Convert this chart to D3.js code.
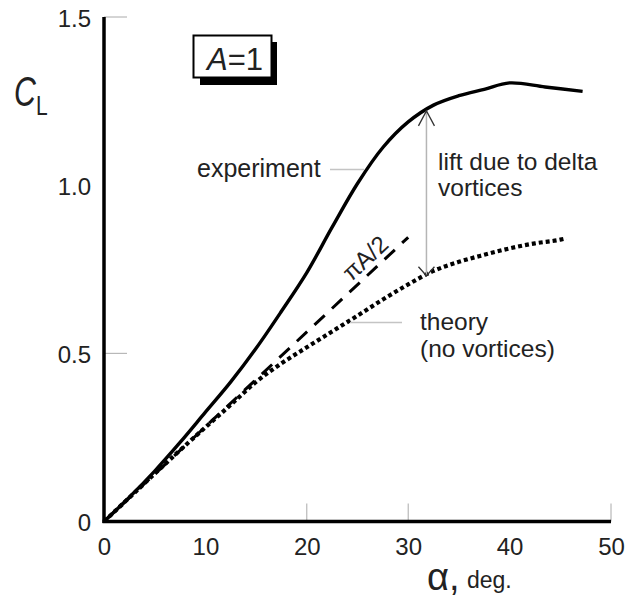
<!DOCTYPE html>
<html>
<head>
<meta charset="utf-8">
<script src="https://cdn.jsdelivr.net/npm/d3@7/dist/d3.min.js"></script>
<style>
  html, body { margin: 0; padding: 0; background: #fff; }
  svg { display: block; }
  text { font-family: "Liberation Sans", Arial, Helvetica, sans-serif; fill: #222; }
</style>
</head>
<body>
<script>
// Lift coefficient of a delta wing of aspect ratio 1 versus angle of attack.
// Angle of attack, degrees, and CL for the measured curve
const expAlpha = [0, 2.5, 5, 7.5, 10, 12.5, 15, 17.5, 20, 22.5, 25, 27.5, 30, 32.5, 35, 37.5, 40, 43.5, 47.2];
const expCL    = [0, 0.072, 0.15, 0.235, 0.325, 0.415, 0.515, 0.625, 0.74, 0.875, 1.005, 1.112, 1.188, 1.238, 1.266, 1.285, 1.304, 1.292, 1.279];

// Attached-flow theory (no vortex lift)
const theoryAlpha = [0, 2.5, 5, 7.5, 10, 12.5, 15, 17.5, 20, 22.5, 25, 27.5, 30, 32.5, 35, 37.5, 40, 42.5, 45, 45.6];
const theoryCL    = [0, 0.071, 0.142, 0.212, 0.28, 0.347, 0.415, 0.47, 0.518, 0.565, 0.612, 0.66, 0.705, 0.745, 0.772, 0.793, 0.812, 0.827, 0.838, 0.842];

// Slender-wing slope, CL = (pi A / 2) alpha
const slenderAlpha = [0, 30];
const slenderCL    = [0, 0.845];

// Axis ticks
const xTickLabels = [0, 10, 20, 30, 40, 50];
const yTickLabels = [0, 0.5, 1.0, 1.5];
const xTickMarks  = [20, 30, 50];
const yTickMarks  = [0.5, 1.5];

// Angle at which the vortex-lift increment is marked
const vortexArrowAlpha = 31.8;

const W = 635, H = 597;
const svg = d3.select("body").append("svg").attr("width", W).attr("height", H);
svg.append("rect").attr("width", W).attr("height", H).attr("fill", "#fff");

const x = d3.scaleLinear().domain([0, 50]).range([104, 611]);
const y = d3.scaleLinear().domain([0, 1.5]).range([521.5, 17]);

const zip = (a, b) => a.map((v, i) => [v, b[i]]);
const line = d3.line().x(d => x(d[0])).y(d => y(d[1]));
const smooth = d3.line().x(d => x(d[0])).y(d => y(d[1])).curve(d3.curveMonotoneX);

// tick marks: thin grey, pointing into the plot
svg.append("g").selectAll("line").data(xTickMarks).join("line")
  .attr("x1", d => x(d)).attr("x2", d => x(d))
  .attr("y1", y(0)).attr("y2", y(0) - 18)
  .attr("stroke", "#aaa").attr("stroke-width", 1);
svg.append("g").selectAll("line").data(yTickMarks).join("line")
  .attr("x1", x(0)).attr("x2", x(0) + 23)
  .attr("y1", d => y(d)).attr("y2", d => y(d))
  .attr("stroke", "#aaa").attr("stroke-width", 1);

// tick labels
const xAxis = svg.append("g").attr("transform", `translate(0,${y(0)})`)
  .call(d3.axisBottom(x).tickValues(xTickLabels).tickSize(0).tickPadding(16.5).tickFormat(d3.format("d")));
const yAxis = svg.append("g").attr("transform", `translate(${x(0)},0)`)
  .call(d3.axisLeft(y).tickValues(yTickLabels).tickSize(0).tickPadding(13)
        .tickFormat(d => d === 0 ? "0" : d3.format(".1f")(d)));
[xAxis, yAxis].forEach(g => {
  g.select(".domain").remove();
  g.selectAll("text").attr("font-size", 24).attr("fill", "#222")
    .style("font-family", '"Liberation Sans", Arial, sans-serif');
});
yAxis.selectAll("text").attr("dy", "0.38em");

// heavy axis lines
svg.append("line").attr("x1", x(0)).attr("x2", x(0)).attr("y1", y(1.5)).attr("y2", y(0) + 1.5)
  .attr("stroke", "#000").attr("stroke-width", 3.5);
svg.append("line").attr("x1", x(0) - 1.5).attr("x2", x(50)).attr("y1", y(0)).attr("y2", y(0))
  .attr("stroke", "#000").attr("stroke-width", 3.5);

// curves
svg.append("path").datum(zip(slenderAlpha, slenderCL)).attr("d", line)
  .attr("fill", "none").attr("stroke", "#000").attr("stroke-width", 3)
  .attr("stroke-dasharray", "14,10");
svg.append("path").datum(zip(theoryAlpha, theoryCL)).attr("d", smooth)
  .attr("fill", "none").attr("stroke", "#000").attr("stroke-width", 4.2)
  .attr("stroke-dasharray", "4,3");
svg.append("path").datum(zip(expAlpha, expCL)).attr("d", d3.line().x(d => x(d[0])).y(d => y(d[1])).curve(d3.curveCatmullRom.alpha(0.5)))
  .attr("fill", "none").attr("stroke", "#000").attr("stroke-width", 3.4)
  .attr("stroke-linejoin", "round");

// vortex-lift increment arrow, spanning theory to experiment
const interp = (xs, ys, a) => {
  const i = d3.bisectLeft(xs, a);
  const t = (a - xs[i - 1]) / (xs[i] - xs[i - 1]);
  return ys[i - 1] + t * (ys[i] - ys[i - 1]);
};
const ax = x(vortexArrowAlpha);
const aTop = y(interp(expAlpha, expCL, vortexArrowAlpha)) + 1;
const aBot = y(interp(theoryAlpha, theoryCL, vortexArrowAlpha)) + 1;
svg.append("line").attr("x1", ax).attr("x2", ax).attr("y1", aTop).attr("y2", aBot)
  .attr("stroke", "#b5b5b5").attr("stroke-width", 1.5);
svg.append("path").attr("d", `M${ax - 8},${aTop + 15}L${ax},${aTop}L${ax + 8},${aTop + 15}`)
  .attr("fill", "none").attr("stroke", "#333").attr("stroke-width", 1.3);
svg.append("path").attr("d", `M${ax - 8},${aBot - 9}L${ax},${aBot}L${ax + 8},${aBot - 9}`)
  .attr("fill", "none").attr("stroke", "#333").attr("stroke-width", 1.3);

// leader lines
svg.append("line").attr("x1", 330).attr("x2", 364).attr("y1", 169.5).attr("y2", 169.5)
  .attr("stroke", "#c4c4c4").attr("stroke-width", 1.5);
svg.append("line").attr("x1", 350).attr("x2", 402).attr("y1", 322.5).attr("y2", 322.5)
  .attr("stroke", "#c4c4c4").attr("stroke-width", 1.5);

// annotations
const label = (tx, ty, s, size) => svg.append("text").attr("x", tx).attr("y", ty)
  .attr("font-size", size).text(s);
label(197, 177, "experiment", 25);
label(438, 169.5, "lift due to delta", 24.5);
label(438, 196, "vortices", 24.5);
label(420, 330, "theory", 24.5);
label(420, 356.5, "(no vortices)", 24.5);

// pi A / 2 label along the slender-wing line
const slopeAngle = Math.atan2(y(slenderCL[1]) - y(0), x(slenderAlpha[1]) - x(0)) * 180 / Math.PI;
svg.append("text").attr("transform", `translate(365,258) rotate(${slopeAngle})`)
  .attr("text-anchor", "middle").attr("dy", "0.35em").attr("font-size", 24)
  .text("πA/2");

// aspect-ratio box with drop shadow
svg.append("rect").attr("x", 200).attr("y", 42).attr("width", 77).attr("height", 43).attr("fill", "#000");
svg.append("rect").attr("x", 193.5).attr("y", 35.5).attr("width", 78).attr("height", 42)
  .attr("fill", "#fff").attr("stroke", "#000").attr("stroke-width", 2);
const ar = svg.append("text").attr("x", 207).attr("y", 70).attr("font-size", 31);
ar.append("tspan").attr("font-style", "italic").text("A");
ar.append("tspan").text("=1");

// y-axis title C_L
svg.append("text").attr("transform", "translate(14,106) scale(0.72,1)")
  .attr("font-size", 42).attr("font-style", "italic").text("C");
svg.append("text").attr("transform", "translate(36,115) scale(0.75,1)")
  .attr("font-size", 28).text("L");

// x-axis title
svg.append("text").attr("x", 427).attr("y", 590).attr("font-size", 38).text("α,");
svg.append("text").attr("x", 467).attr("y", 588).attr("font-size", 23).text("deg.");
</script>
</body>
</html>
